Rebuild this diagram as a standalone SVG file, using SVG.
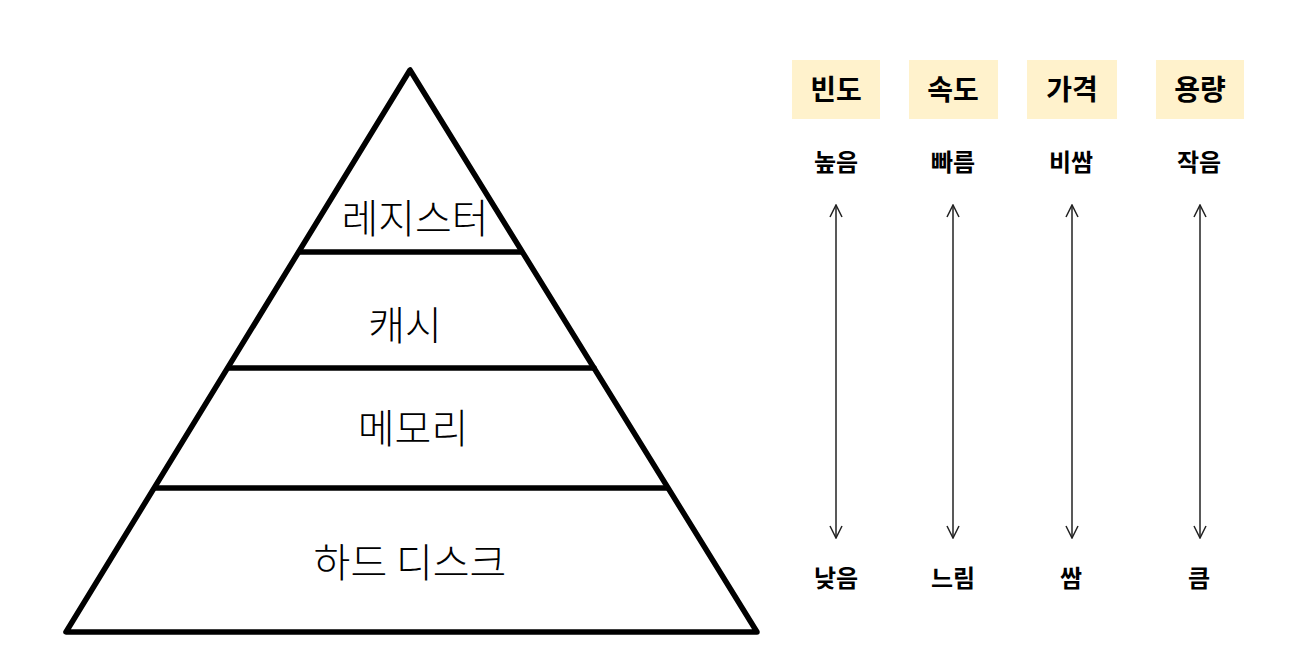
<svg xmlns="http://www.w3.org/2000/svg" width="1302" height="668" viewBox="0 0 1302 668">
<defs>
<style>
.layer{font-family:"Noto Sans CJK KR","Noto Sans",sans-serif;font-size:40px;font-weight:300;fill:#000;text-anchor:middle;}
.hdr{font-family:"Noto Sans CJK KR","Noto Sans",sans-serif;font-size:28px;font-weight:bold;fill:#000;text-anchor:middle;}
.lbl{font-family:"Noto Sans CJK KR","Noto Sans",sans-serif;font-size:24px;font-weight:bold;fill:#000;text-anchor:middle;}
.box{fill:#fff2cc;}
.pyr{fill:none;stroke:#000;stroke-width:5.5;stroke-linejoin:round;stroke-linecap:round;}
.arr{stroke:#222;stroke-width:1.5;fill:none;marker-start:url(#ah);marker-end:url(#ah);}
</style>
<marker id="ah" viewBox="0 0 14 14" refX="13" refY="7" markerWidth="14" markerHeight="14" markerUnits="userSpaceOnUse" orient="auto-start-reverse">
<path d="M1,1 L13,7 L1,13" fill="none" stroke="#222" stroke-width="1.5"/>
</marker>
</defs>
<rect width="1302" height="668" fill="#fff"/>
<g id="pyramid">
<path class="pyr" d="M410,70 L66,632 L757,632 Z"/>
<line class="pyr" x1="300" y1="252" x2="521" y2="252"/>
<line class="pyr" x1="229" y1="368" x2="594" y2="368"/>
<line class="pyr" x1="156" y1="488" x2="667" y2="488"/>
</g>
<g id="register"><text class="layer" x="415" y="233">레지스터</text></g>
<g id="cache"><text class="layer" x="405" y="340">캐시</text></g>
<g id="memory"><text class="layer" x="413" y="443">메모리</text></g>
<g id="harddisk"><text class="layer" x="410" y="577">하드 디스크</text></g>
<g id="h-freq"><rect class="box" x="792" y="60" width="88" height="59"/><text class="hdr" x="836" y="100">빈도</text></g>
<g id="h-speed"><rect class="box" x="909" y="60" width="89" height="59"/><text class="hdr" x="953" y="100">속도</text></g>
<g id="h-price"><rect class="box" x="1027" y="60" width="90" height="59"/><text class="hdr" x="1072" y="100">가격</text></g>
<g id="h-cap"><rect class="box" x="1156" y="60" width="88" height="59"/><text class="hdr" x="1200" y="100">용량</text></g>
<g id="top-labels">
<text class="lbl" x="836" y="171">높음</text>
<text class="lbl" x="953" y="171">빠름</text>
<text class="lbl" x="1071" y="171">비쌈</text>
<text class="lbl" x="1199" y="171">작음</text>
</g>
<g id="bottom-labels">
<text class="lbl" x="836" y="587">낮음</text>
<text class="lbl" x="953" y="587">느림</text>
<text class="lbl" x="1071" y="587">쌈</text>
<text class="lbl" x="1199" y="587">큼</text>
</g>
<g id="connectors">
<line class="arr" x1="836" y1="205" x2="836" y2="538"/>
<line class="arr" x1="953" y1="205" x2="953" y2="538"/>
<line class="arr" x1="1072" y1="205" x2="1072" y2="538"/>
<line class="arr" x1="1200" y1="205" x2="1200" y2="538"/>
</g>
</svg>
